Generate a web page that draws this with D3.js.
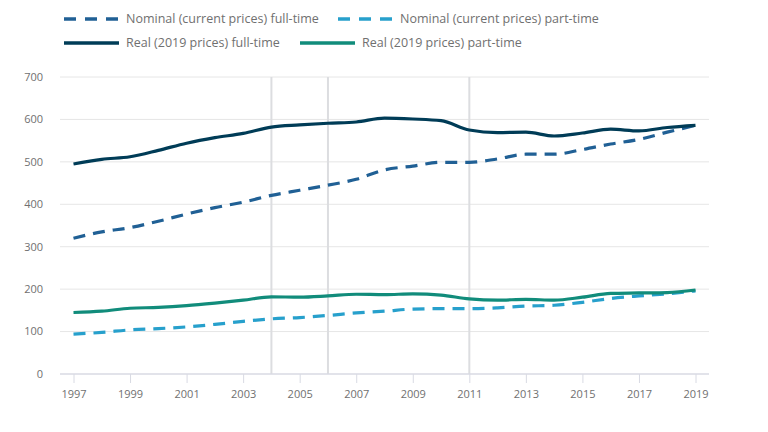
<!DOCTYPE html>
<html>
<head>
<meta charset="utf-8">
<script src="https://cdn.jsdelivr.net/npm/d3@7"></script>
<style>
html,body{margin:0;padding:0;background:#fff;}
svg{display:block;font-family:"Open Sans",sans-serif;}
</style>
</head>
<body>
<svg id="chart" width="768" height="432"></svg>
<script>
const years = [1997,1998,1999,2000,2001,2002,2003,2004,2005,2006,2007,2008,2009,2010,2011,2012,2013,2014,2015,2016,2017,2018,2019];
const nominalFT = [320,335,345,360,377,392,405,421,433,445,459,481,490,499,499,507,518,518,529,542,553,570,586];
const nominalPT = [94,98,104,107,111,117,124,130,133,138,144,148,153,154,154,156,160,162,169,178,184,189,196];
const realFT = [495,506,512,527,544,557,567,582,587,591,594,603,601,597,575,569,570,561,568,577,573,581,586];
const realPT = [145,148,155,157,161,167,174,182,181,184,188,187,189,186,177,174,176,174,181,190,191,192,198];
const yTicks = [0,100,200,300,400,500,600,700];
const xTickYears = [1997,1999,2001,2003,2005,2007,2009,2011,2013,2015,2017,2019];
const markerYears = [2004,2006,2011];

const series = [
  {name:"Nominal (current prices) full-time", values:nominalFT, color:"#206095", dash:"12,8"},
  {name:"Nominal (current prices) part-time", values:nominalPT, color:"#27a0cc", dash:"12,8"},
  {name:"Real (2019 prices) full-time", values:realFT, color:"#003c57", dash:null},
  {name:"Real (2019 prices) part-time", values:realPT, color:"#118c7b", dash:null}
];

const svg = d3.select("#chart");
const x = d3.scaleLinear().domain([1997,2019]).range([73.5,695.5]);
const y = d3.scaleLinear().domain([0,700]).range([374,77]);
const left = 60, right = 709;

// horizontal grid
svg.append("g").selectAll("line").data(yTicks.filter(d=>d>0)).join("line")
  .attr("x1",left).attr("x2",right)
  .attr("y1",d=>y(d)).attr("y2",d=>y(d))
  .attr("stroke","#e6e6e6").attr("stroke-width",1);

// vertical marker lines
svg.append("g").selectAll("line").data(markerYears).join("line")
  .attr("x1",d=>x(d)).attr("x2",d=>x(d))
  .attr("y1",y(700)).attr("y2",y(0))
  .attr("stroke","#dcdde0").attr("stroke-width",2);

// y labels
svg.append("g").selectAll("text").data(yTicks).join("text")
  .attr("x",43).attr("y",d=>y(d)).attr("dy","0.35em")
  .attr("text-anchor","end").attr("font-size",11).attr("fill","#707070")
  .text(d=>d);

// x axis
const xAxis = d3.axisBottom(x).tickValues(xTickYears).tickFormat(d3.format("d")).tickSize(9).tickSizeOuter(0);
const gx = svg.append("g").attr("transform",`translate(0,${y(0)})`).call(xAxis);
gx.select(".domain").remove();
gx.selectAll(".tick line").attr("stroke","#d8dae3").attr("stroke-width",1);
gx.selectAll(".tick text").attr("font-size",11).attr("fill","#707070").attr("font-family","Open Sans, sans-serif").attr("dy","1.05em");
svg.append("line").attr("x1",left).attr("x2",right).attr("y1",y(0)).attr("y2",y(0))
  .attr("stroke","#d8dae3").attr("stroke-width",1.5);

// lines
const line = d3.line().x((d,i)=>x(years[i])).y(d=>y(d)).curve(d3.curveMonotoneX);
svg.append("g").selectAll("path").data(series).join("path")
  .attr("d",d=>line(d.values))
  .attr("fill","none").attr("stroke",d=>d.color).attr("stroke-width",3.2)
  .attr("stroke-dasharray",d=>d.dash);

// legend
const legendPos = [
  {lx:64, ly:19},
  {lx:338, ly:19},
  {lx:64, ly:43},
  {lx:300, ly:43}
];
const lg = svg.append("g").selectAll("g").data(series).join("g")
  .attr("transform",(d,i)=>`translate(${legendPos[i].lx},${legendPos[i].ly})`);
lg.append("line").attr("x1",0).attr("x2",55).attr("y1",0).attr("y2",0)
  .attr("stroke",d=>d.color).attr("stroke-width",3.5)
  .attr("stroke-dasharray",d=>d.dash?"12,9":null);
lg.append("text").attr("x",62).attr("y",0).attr("dy","0.35em")
  .attr("font-size",12.5).attr("fill","#707070").text(d=>d.name);
</script>
</body>
</html>
